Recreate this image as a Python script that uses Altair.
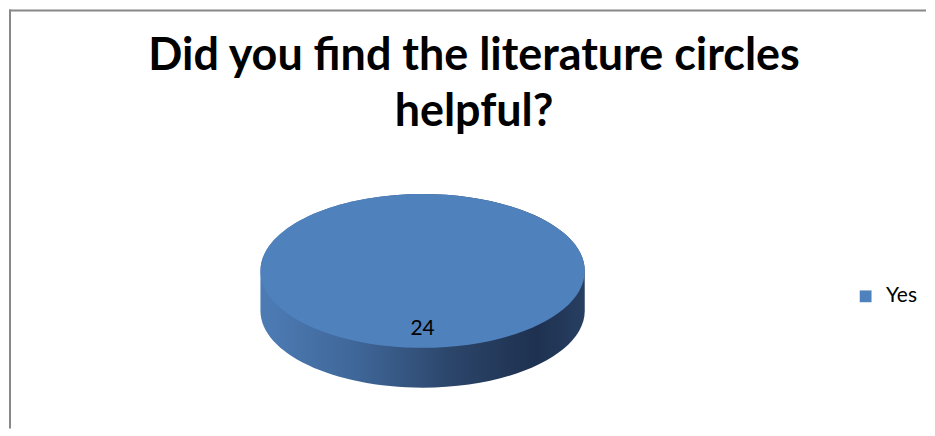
import altair as alt
import pandas as pd

# Data
categories = ["Yes"]
values = [24]
title_lines = ["Did you find the literature circles", "helpful?"]
colors = ["#4f81bd"]

df = pd.DataFrame({"Category": categories, "Value": values})

W, H = 919, 420
CX, CY = 414.5, 282
SIZE = 325 ** 2

top_path = "M -1 -0.123 A 1 0.474 0 1 1 1 -0.123 A 1 0.474 0 1 1 -1 -0.123 Z"
side_path = "M -1 -0.123 A 1 0.474 0 0 1 1 -0.123 L 1 0.123 A 1 0.474 0 0 1 -1 0.123 Z"

side_grad = alt.Gradient(
    gradient="linear",
    x1=0, x2=1, y1=0, y2=0,
    stops=[
        alt.GradientStop(color="#4d7cb5", offset=0),
        alt.GradientStop(color="#3f6698", offset=0.3),
        alt.GradientStop(color="#2b4468", offset=0.6),
        alt.GradientStop(color="#1e3150", offset=0.85),
        alt.GradientStop(color="#283f62", offset=1),
    ],
)

base = alt.Chart(df)

side = base.mark_point(shape=side_path, filled=True, fill=side_grad, opacity=1, strokeWidth=0).encode(
    x=alt.value(CX), y=alt.value(CY), size=alt.value(SIZE)
)

top = base.mark_point(shape=top_path, filled=True, opacity=1, strokeWidth=0).encode(
    x=alt.value(CX), y=alt.value(CY), size=alt.value(SIZE),
    color=alt.Color(
        "Category:N",
        scale=alt.Scale(domain=categories, range=colors),
        legend=alt.Legend(
            title=None, orient="none", legendX=848, legendY=277,
            symbolType="square", symbolSize=140, symbolStrokeWidth=0,
            labelFont="Lato", labelFontSize=21, labelColor="#000000", labelOffset=10,
        ),
    ),
)

label = base.mark_text(font="Lato", fontSize=21, color="#000000", baseline="middle", align="center").encode(
    x=alt.value(CX), y=alt.value(320), text=alt.Text("Value:Q")
)

title = base.mark_text(
    text=title_lines, font="Lato", fontSize=45, fontWeight="bold", color="#000000",
    align="center", baseline="alphabetic", lineHeight=56,
).encode(x=alt.value(466), y=alt.value(61))

border_top = base.mark_rule(color="#888888", strokeWidth=2).encode(
    x=alt.value(0), x2=alt.value(W), y=alt.value(1)
)
border_left = base.mark_rule(color="#888888", strokeWidth=2).encode(
    x=alt.value(1), y=alt.value(0), y2=alt.value(H)
)

chart = alt.layer(border_top, border_left, side, top, label, title).properties(
    width=W, height=H,
    padding=0,
).configure_view(stroke=None)

chart.save("out.html", embed_options={"renderer": "svg", "actions": False})
